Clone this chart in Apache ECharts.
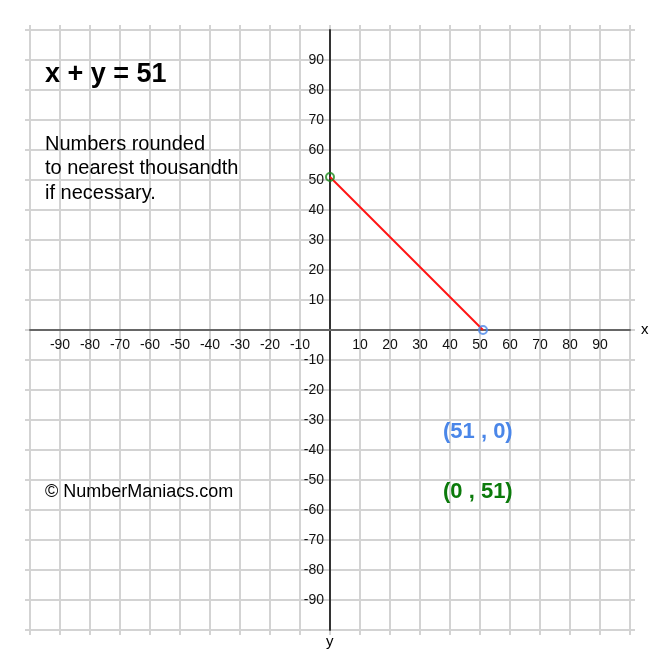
<!DOCTYPE html>
<html lang="en">
<head>
    <meta charset="UTF-8">
    <title>x + y = 51</title>
    <script src="https://cdn.jsdelivr.net/npm/echarts@6/dist/echarts.min.js"></script>
    <style>
        html, body { margin: 0; padding: 0; background: #fff; }
        #chart { width: 660px; height: 660px; }
    </style>
</head>
<body>
    <div id="chart"></div>
    <script>
        // line x + y = 51 between its two intercepts
        const lineXs = [0, 51];
        const lineYs = [51, 0];
        const pointColors = ['#1a8a1a', '#4a86e8'];
        const axisMin = -100;
        const axisMax = 100;
        const axisStep = 10;
        const titleText = 'x + y = 51';
        const noteLines = ['Numbers rounded', 'to nearest thousandth', 'if necessary.'];
        const pointLabels = ['(51 , 0)', '(0 , 51)'];

        const FONT = '"Liberation Sans", Arial, Helvetica, sans-serif';
        const GRID = '#d3d3d3';
        const HALF = 300; // half of the 600px plot, to move the axes to the origin

        const hideEnds = v => (v === 0 || Math.abs(v) === 100) ? '' : String(v);

        // extra axes only to draw the short grid stubs outside the plot area
        function stubAxis(pos) {
            return {
                type: 'value', position: pos, min: axisMin, max: axisMax, interval: axisStep,
                axisLine: { show: false, onZero: false },
                axisLabel: { show: false },
                splitLine: { show: false },
                axisTick: { show: true, length: 5, lineStyle: { color: GRID, width: 2 } }
            };
        }

        const linePts = lineXs.map((x, i) => [x, lineYs[i]]);

        const chart = echarts.init(document.getElementById('chart'));
        chart.setOption({
            animation: false,
            backgroundColor: '#fff',
            grid: { left: 30, right: 30, top: 30, bottom: 30, containLabel: false },
            xAxis: [
                {
                    type: 'value', position: 'bottom', offset: -HALF,
                    min: axisMin, max: axisMax, interval: axisStep,
                    axisLine: { onZero: false, lineStyle: { color: '#666', width: 2 } },
                    axisTick: { show: false },
                    splitLine: { lineStyle: { color: GRID, width: 2 } },
                    axisLabel: { formatter: hideEnds, color: '#111', fontSize: 14, fontFamily: FONT, margin: 8 },
                    z: 5
                },
                stubAxis('top'),
                stubAxis('bottom')
            ],
            yAxis: [
                {
                    type: 'value', position: 'left', offset: -HALF,
                    min: axisMin, max: axisMax, interval: axisStep,
                    axisLine: { onZero: false, lineStyle: { color: '#333', width: 2 } },
                    axisTick: { show: false },
                    splitLine: { lineStyle: { color: GRID, width: 2 } },
                    axisLabel: { formatter: hideEnds, color: '#111', fontSize: 14, fontFamily: FONT, margin: 6 },
                    z: 5
                },
                stubAxis('left'),
                stubAxis('right')
            ],
            series: [
                {
                    type: 'line',
                    data: linePts,
                    symbol: 'none',
                    lineStyle: { color: '#ff1414', width: 2 },
                    z: 6
                },
                {
                    type: 'scatter',
                    data: [
                        { value: linePts[0], itemStyle: { borderColor: pointColors[0] } },
                        { value: linePts[1], itemStyle: { borderColor: pointColors[1] } }
                    ],
                    symbol: 'circle',
                    symbolSize: 8,
                    itemStyle: { color: 'transparent', borderWidth: 2 },
                    z: 7
                }
            ],
            graphic: [
                { type: 'text', z: 100, left: 45, top: 61, style: { text: titleText, font: 'bold 27px ' + FONT, fill: '#000' } },
                { type: 'text', z: 100, left: 45, top: 132, style: { text: noteLines.join('\n'), font: '20px ' + FONT, lineHeight: 24.5, fill: '#000' } },
                { type: 'text', z: 100, left: 45, top: 483, style: { text: '\u00a9 NumberManiacs.com', font: '18px ' + FONT, fill: '#000' } },
                { type: 'text', z: 100, left: 443, top: 421, style: { text: pointLabels[0], font: 'bold 22px ' + FONT, fill: pointColors[1] } },
                { type: 'text', z: 100, left: 443, top: 481, style: { text: pointLabels[1], font: 'bold 22px ' + FONT, fill: '#0b7a0b' } },
                { type: 'text', z: 100, left: 641, top: 322, style: { text: 'x', font: '15px ' + FONT, fill: '#000' } },
                { type: 'text', z: 100, left: 326, top: 634, style: { text: 'y', font: '15px ' + FONT, fill: '#000' } }
            ]
        });
    </script>
</body>
</html>
